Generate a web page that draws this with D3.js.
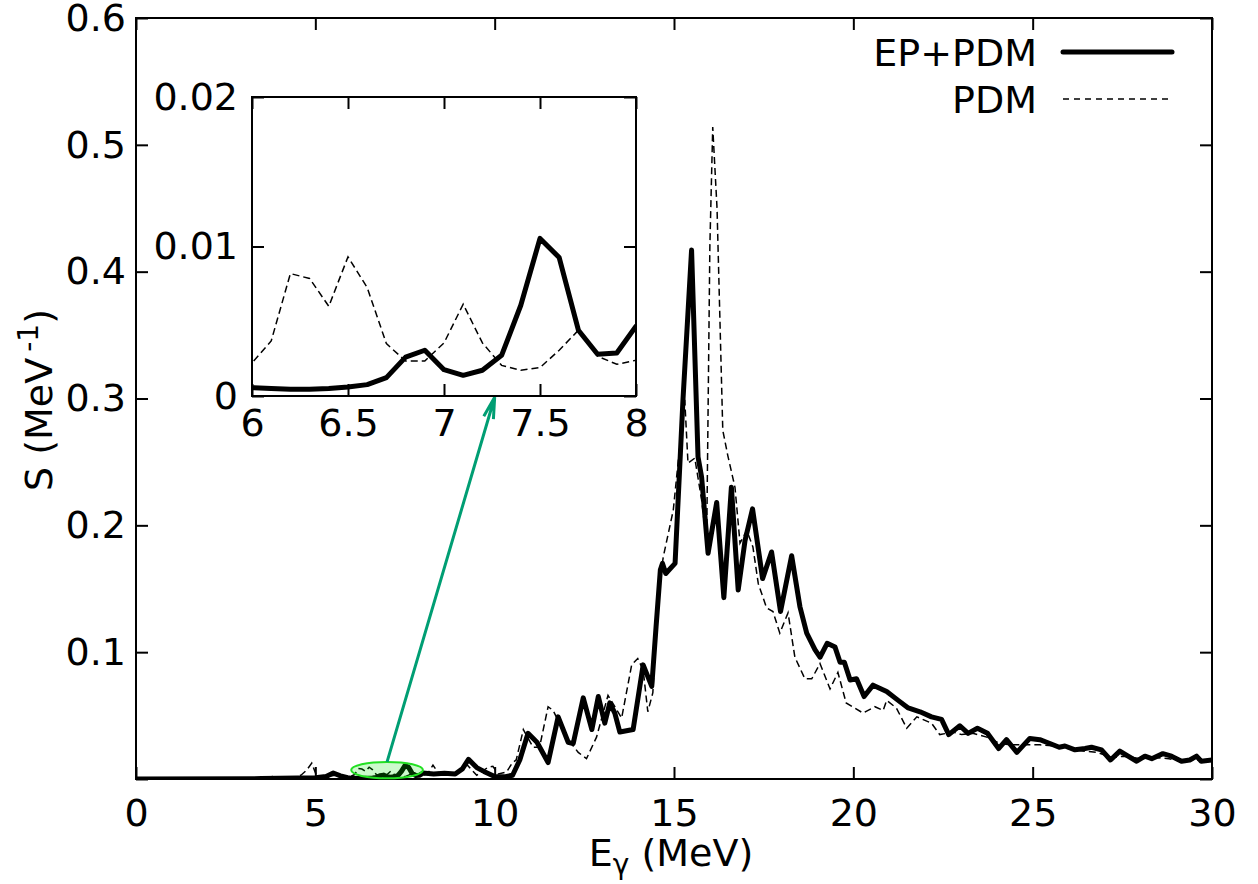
<!DOCTYPE html>
<html lang="en">
<head>
    <meta charset="utf-8">
    <title>Strength function</title>
    <script type="text/javascript" src="https://d3js.org/d3.v7.min.js"></script>
    <style>
        body { margin: 0; background: #fff; }
        text { font-family: "DejaVu Sans", sans-serif; }
    </style>
</head>
<body>
    <div id="viz"></div>

    <script type="text/javascript">
        // ---- data ----
        // EP+PDM (thick solid)
        const epE = [0, 3.5, 4.5, 5.0, 5.3, 5.5, 5.7, 5.9,
            6.0, 6.1, 6.2, 6.3, 6.4, 6.5, 6.6, 6.7, 6.8, 6.9, 7.0, 7.1, 7.2, 7.3, 7.4, 7.5, 7.6, 7.7, 7.8, 7.9, 8.0,
            8.3, 8.6, 8.9, 9.1, 9.27, 9.5, 9.7, 10.0, 10.3, 10.5, 10.7, 10.93, 11.18, 11.49, 11.77, 12.05, 12.19,
            12.47, 12.71, 12.89, 13.07, 13.21, 13.35, 13.49, 13.86, 14.14, 14.38, 14.5, 14.62, 14.68, 14.77, 15.03,
            15.25, 15.49, 15.67, 15.77, 15.95, 16.19, 16.39, 16.6, 16.79, 16.98, 17.19, 17.47, 17.72, 17.97, 18.28,
            18.51, 18.7, 18.93, 19.07, 19.27, 19.49, 19.63, 19.75, 19.91, 20.09, 20.3, 20.55, 20.93, 21.25, 21.53,
            21.86, 22.18, 22.46, 22.66, 22.97, 23.2, 23.46, 23.74, 24.05, 24.27, 24.56, 24.92, 25.2, 25.48, 25.74,
            25.9, 26.18, 26.46, 26.64, 26.92, 27.17, 27.43, 27.66, 27.9, 28.13, 28.32, 28.63, 28.87, 29.15, 29.38,
            29.57, 29.7, 30.0];
        const epS = [0, 0.0003, 0.0008, 0.001, 0.002, 0.0047, 0.0025, 0.001,
            0.00056, 0.0005, 0.00045, 0.00045, 0.0005, 0.0006, 0.00076, 0.00123, 0.0026, 0.00306, 0.00176, 0.00138,
            0.00172, 0.00272, 0.00607, 0.01054, 0.00926, 0.0044, 0.00279, 0.00288, 0.00467,
            0.004, 0.0045, 0.004, 0.008, 0.0155, 0.009, 0.006, 0.002, 0.0018, 0.003, 0.015, 0.036, 0.029, 0.013,
            0.049, 0.029, 0.028, 0.064, 0.039, 0.065, 0.044, 0.060, 0.052, 0.037, 0.039, 0.090, 0.073, 0.120,
            0.165, 0.170, 0.162, 0.170, 0.299, 0.417, 0.254, 0.238, 0.178, 0.218, 0.143, 0.230, 0.149, 0.188,
            0.213, 0.158, 0.179, 0.132, 0.176, 0.136, 0.115, 0.102, 0.096, 0.107, 0.104, 0.092, 0.092, 0.078,
            0.079, 0.065, 0.074, 0.069, 0.062, 0.056, 0.053, 0.049, 0.047, 0.035, 0.042, 0.036, 0.040, 0.036,
            0.024, 0.031, 0.021, 0.032, 0.031, 0.028, 0.025, 0.026, 0.023, 0.024, 0.025, 0.023, 0.015, 0.022,
            0.018, 0.014, 0.018, 0.016, 0.020, 0.018, 0.014, 0.015, 0.018, 0.014, 0.015];

        // PDM (thin dashed)
        const pdmE = [0, 3.6, 3.8, 4.0, 4.2, 4.4, 4.6, 4.76, 4.9, 5.04, 5.3, 5.6, 5.8, 5.9,
            6.0, 6.1, 6.2, 6.3, 6.4, 6.5, 6.6, 6.7, 6.8, 6.9, 7.0, 7.1, 7.2, 7.3, 7.4, 7.5, 7.6, 7.7, 7.8, 7.9, 8.0,
            8.15, 8.28, 8.47, 8.8, 9.0, 9.22, 9.5, 9.8, 9.95, 10.1, 10.33, 10.5, 10.6, 10.8, 11.07, 11.25, 11.49,
            11.63, 12.0, 12.33, 12.56, 12.84, 13.16, 13.35, 13.54, 13.82, 13.99, 14.14, 14.27, 14.41, 14.52, 14.6,
            14.7, 14.98, 15.17, 15.3, 15.39, 15.58, 15.77, 15.91, 16.0, 16.08, 16.2, 16.36, 16.5, 16.7, 16.84,
            17.03, 17.2, 17.35, 17.58, 17.76, 17.95, 18.18, 18.37, 18.65, 18.84, 19.07, 19.35, 19.57, 19.8, 20.27,
            20.6, 20.83, 20.93, 21.2, 21.49, 21.77, 22.18, 22.41, 22.78, 23.02, 23.33, 23.72, 24.09, 24.4, 24.8,
            25.2, 25.6, 26.0, 26.4, 26.8, 27.2, 27.6, 28.0, 28.4, 28.8, 29.2, 29.6, 30.0];
        const pdmS = [0, 0.0003, 0.002, 0.001, 0.002, 0.001, 0.003, 0.007, 0.0125, 0.002, 0.002, 0.003, 0.002, 0.002,
            0.00221, 0.00368, 0.00819, 0.00786, 0.006, 0.00931, 0.00725, 0.0035, 0.00234, 0.00234, 0.00355, 0.00614,
            0.00355, 0.00205, 0.00172, 0.0019, 0.00306, 0.0044, 0.00266, 0.00212, 0.00239,
            0.005, 0.011, 0.003, 0.003, 0.005, 0.0115, 0.003, 0.009, 0.010, 0.004, 0.0055, 0.013, 0.015, 0.039,
            0.025, 0.025, 0.057, 0.054, 0.033, 0.021, 0.016, 0.033, 0.066, 0.057, 0.048, 0.090, 0.095, 0.086,
            0.053, 0.068, 0.125, 0.155, 0.175, 0.212, 0.265, 0.299, 0.249, 0.253, 0.220, 0.186, 0.420, 0.514,
            0.450, 0.275, 0.255, 0.230, 0.186, 0.196, 0.183, 0.154, 0.135, 0.132, 0.115, 0.131, 0.096, 0.079,
            0.079, 0.091, 0.071, 0.084, 0.060, 0.052, 0.057, 0.054, 0.062, 0.056, 0.040, 0.049, 0.044, 0.035,
            0.037, 0.035, 0.036, 0.033, 0.028, 0.027, 0.027, 0.027, 0.026, 0.024, 0.022, 0.021, 0.017, 0.018,
            0.016, 0.017, 0.016, 0.014, 0.015, 0.014];

        const seriesNames = ["EP+PDM", "PDM"];
        const xTicks = [0, 5, 10, 15, 20, 25, 30];
        const yTicks = [0, 0.1, 0.2, 0.3, 0.4, 0.5, 0.6];
        const insetXTicks = [6, 6.5, 7, 7.5, 8];
        const insetYTicks = [0, 0.01, 0.02];

        // zoom marker: ellipse over 6..8 MeV, arrow to the inset
        const markCenter = [7, 0.007];
        const markHalf = [1, 0.0065];
        const arrowFrom = [7, 0.0135];
        const arrowTo = [10, 0.301];

        // ---- layout ----
        const W = 1258, H = 884;
        const main = {left: 136, right: 1212, top: 18, bottom: 779};
        const inset = {left: 252, right: 636, top: 97, bottom: 396};
        const fontSize = 38;

        const svg = d3.select("#viz").append("svg")
            .attr("width", W).attr("height", H);

        const x = d3.scaleLinear().domain([0, 30]).range([main.left, main.right]);
        const y = d3.scaleLinear().domain([0, 0.6]).range([main.bottom, main.top]);
        const xi = d3.scaleLinear().domain([6, 8]).range([inset.left, inset.right]);
        const yi = d3.scaleLinear().domain([0, 0.02]).range([inset.bottom, inset.top]);

        const epData = epE.map((e, i) => [e, epS[i]]);
        const pdmData = pdmE.map((e, i) => [e, pdmS[i]]);

        function styleAxis(g) {
            g.attr("font-family", "DejaVu Sans").attr("font-size", fontSize);
            g.select(".domain").remove();
            g.selectAll("line").attr("stroke", "#000").attr("stroke-width", 2);
            g.selectAll("text").attr("fill", "#000");
        }

        // clip paths
        const defs = svg.append("defs");
        defs.append("clipPath").attr("id", "clipMain").append("rect")
            .attr("x", main.left).attr("y", main.top)
            .attr("width", main.right - main.left).attr("height", main.bottom - main.top);
        defs.append("clipPath").attr("id", "clipInset").append("rect")
            .attr("x", inset.left).attr("y", inset.top - 10)
            .attr("width", inset.right - inset.left).attr("height", inset.bottom - inset.top + 10);

        // ---- main axes ----
        const f1 = d3.format(".1f");
        svg.append("g").attr("transform", `translate(0,${main.bottom})`)
            .call(d3.axisBottom(x).tickValues(xTicks).tickSize(-12).tickPadding(20).tickFormat(d3.format("d")))
            .call(styleAxis);
        svg.append("g").attr("transform", `translate(0,${main.top})`)
            .call(d3.axisTop(x).tickValues(xTicks).tickSize(-12).tickFormat(""))
            .call(styleAxis);
        svg.append("g").attr("transform", `translate(${main.left},0)`)
            .call(d3.axisLeft(y).tickValues(yTicks).tickSize(-12).tickPadding(10)
                .tickFormat(d => d === 0 ? "" : f1(d)))
            .call(styleAxis);
        svg.append("g").attr("transform", `translate(${main.right},0)`)
            .call(d3.axisRight(y).tickValues(yTicks).tickSize(-12).tickFormat(""))
            .call(styleAxis);

        const lineMain = d3.line().x(d => x(d[0])).y(d => y(d[1]));

        const gMain = svg.append("g").attr("clip-path", "url(#clipMain)");
        gMain.append("path").datum(pdmData)
            .attr("d", lineMain).attr("fill", "none")
            .attr("stroke", "#000").attr("stroke-width", 1.5).attr("stroke-dasharray", "7,4");
        gMain.append("path").datum(epData)
            .attr("d", lineMain).attr("fill", "none")
            .attr("stroke", "#000").attr("stroke-width", 5)
            .attr("stroke-linejoin", "round").attr("stroke-linecap", "round");

        svg.append("rect")
            .attr("x", main.left).attr("y", main.top)
            .attr("width", main.right - main.left).attr("height", main.bottom - main.top)
            .attr("fill", "none").attr("stroke", "#000").attr("stroke-width", 2);

        // marker ellipse
        svg.append("ellipse")
            .attr("cx", x(markCenter[0])).attr("cy", y(markCenter[1]))
            .attr("rx", x(markCenter[0] + markHalf[0]) - x(markCenter[0]))
            .attr("ry", y(0) - y(markHalf[1]))
            .attr("fill", "rgba(0,230,0,0.2)")
            .attr("stroke", "#22e022").attr("stroke-width", 2);

        // arrow
        const ax0 = x(arrowFrom[0]), ay0 = y(arrowFrom[1]);
        const ax1 = x(arrowTo[0]), ay1 = y(arrowTo[1]);
        const ang = Math.atan2(ay1 - ay0, ax1 - ax0);
        const headLen = 22, headAng = 0.23;
        const h1 = [ax1 - headLen * Math.cos(ang - headAng), ay1 - headLen * Math.sin(ang - headAng)];
        const h2 = [ax1 - headLen * Math.cos(ang + headAng), ay1 - headLen * Math.sin(ang + headAng)];
        svg.append("path")
            .attr("d", `M${ax0},${ay0}L${ax1},${ay1}M${h1[0]},${h1[1]}L${ax1},${ay1}L${h2[0]},${h2[1]}`)
            .attr("fill", "none").attr("stroke", "#009e73").attr("stroke-width", 3)
            .attr("stroke-linejoin", "miter");

        // ---- legend ----
        const legend = [
            {name: seriesNames[0], y: 52, width: 5, dash: null},
            {name: seriesNames[1], y: 99, width: 1.5, dash: "6,5"}
        ];
        legend.forEach(l => {
            svg.append("text").attr("x", 1037).attr("y", l.y + 14)
                .attr("text-anchor", "end").attr("font-size", fontSize).text(l.name);
            svg.append("line").attr("x1", 1063).attr("x2", 1172).attr("y1", l.y).attr("y2", l.y)
                .attr("stroke", "#000").attr("stroke-width", l.width)
                .attr("stroke-linecap", l.dash ? "butt" : "round")
                .attr("stroke-dasharray", l.dash);
        });

        // ---- axis titles ----
        const xt = svg.append("text").attr("x", 671).attr("y", 866)
            .attr("text-anchor", "middle").attr("font-size", fontSize);
        xt.append("tspan").text("E");
        xt.append("tspan").attr("font-size", 28).attr("dy", 8).text("γ");
        xt.append("tspan").attr("dy", -8).text(" (MeV)");

        const yt = svg.append("text")
            .attr("transform", "translate(52,400) rotate(-90)")
            .attr("text-anchor", "middle").attr("font-size", fontSize);
        yt.append("tspan").text("S (MeV");
        yt.append("tspan").attr("font-size", 28).attr("dx", 6).attr("dy", -14).text("-1");
        yt.append("tspan").attr("dy", 14).text(")");

        // ---- inset ----
        svg.append("rect")
            .attr("x", inset.left).attr("y", inset.top)
            .attr("width", inset.right - inset.left).attr("height", inset.bottom - inset.top)
            .attr("fill", "#fff");

        svg.append("g").attr("transform", `translate(0,${inset.bottom})`)
            .call(d3.axisBottom(xi).tickValues(insetXTicks).tickSize(-12).tickPadding(13).tickFormat(d => String(d)))
            .call(styleAxis);
        svg.append("g").attr("transform", `translate(0,${inset.top})`)
            .call(d3.axisTop(xi).tickValues(insetXTicks).tickSize(-12).tickFormat(""))
            .call(styleAxis);
        svg.append("g").attr("transform", `translate(${inset.left},0)`)
            .call(d3.axisLeft(yi).tickValues(insetYTicks).tickSize(-12).tickPadding(14).tickFormat(d => String(d)))
            .call(styleAxis);
        svg.append("g").attr("transform", `translate(${inset.right},0)`)
            .call(d3.axisRight(yi).tickValues(insetYTicks).tickSize(-12).tickFormat(""))
            .call(styleAxis);

        const lineInset = d3.line().x(d => xi(d[0])).y(d => yi(d[1]));
        const gIn = svg.append("g").attr("clip-path", "url(#clipInset)");
        gIn.append("path").datum(pdmData.filter(d => d[0] >= 5.9 && d[0] <= 8.2))
            .attr("d", lineInset).attr("fill", "none")
            .attr("stroke", "#000").attr("stroke-width", 1.5).attr("stroke-dasharray", "7,4");
        gIn.append("path").datum(epData.filter(d => d[0] >= 5.9 && d[0] <= 8.4))
            .attr("d", lineInset).attr("fill", "none")
            .attr("stroke", "#000").attr("stroke-width", 5)
            .attr("stroke-linejoin", "round");

        svg.append("rect")
            .attr("x", inset.left).attr("y", inset.top)
            .attr("width", inset.right - inset.left).attr("height", inset.bottom - inset.top)
            .attr("fill", "none").attr("stroke", "#000").attr("stroke-width", 2);
    </script>
</body>
</html>
